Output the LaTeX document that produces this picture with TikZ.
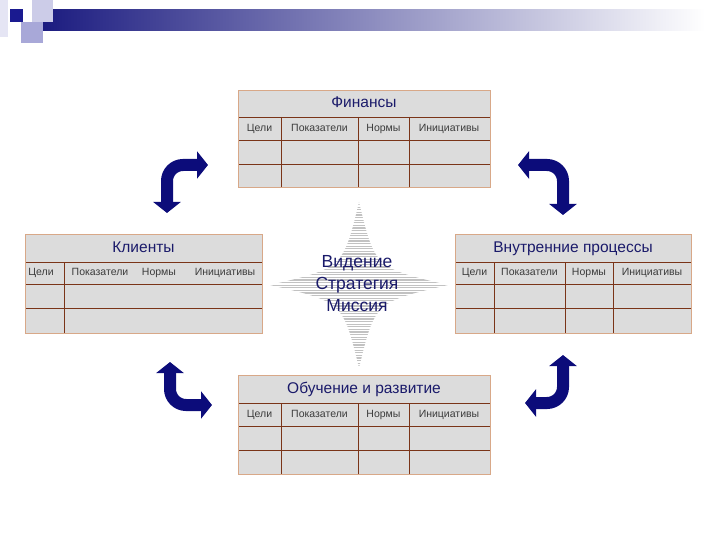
\documentclass[tikz,border=0pt]{standalone}
\usepackage{fontspec}
\setmainfont{Liberation Sans}
\usepackage{xcolor}
\usetikzlibrary{arrows.meta,positioning,calc}

\definecolor{barnavy}{HTML}{1C1C80}
\definecolor{darksq}{HTML}{1A1A90}
\definecolor{lightsq}{HTML}{CCCCE8}
\definecolor{midsq}{HTML}{A8A8D8}
\definecolor{tablegray}{HTML}{DCDCDC}
\definecolor{gridline}{HTML}{7A3418}
\definecolor{frameline}{HTML}{D8A888}
\definecolor{titleblue}{HTML}{1A1A6A}
\definecolor{headgray}{HTML}{3C3C3C}
\definecolor{arrowblue}{HTML}{0C0C7A}

\begin{document}
\begin{tikzpicture}[
    x=1pt, y=-1pt,
    grid/.style={draw=gridline, line width=0.8pt},
    frame/.style={draw=frameline, line width=0.7pt},
    title/.style={text=titleblue, font=\fontsize{15.5}{17}\selectfont, inner sep=0pt,
        text height=11pt, text depth=3pt},
    head/.style={text=headgray, font=\fontsize{10.5}{12}\selectfont, inner sep=0pt,
        text height=7.5pt, text depth=2pt},
    stripe/.style={draw=gray!48, line width=1.2pt},
    motto/.style={text=titleblue, font=\fontsize{17.5}{19}\selectfont, inner sep=0pt},
    bent/.style={
        draw=arrowblue,
        line width=12pt,
        rounded corners=16pt,
        {Triangle[width=27pt,length=11pt]}-{Triangle[width=27pt,length=11pt]}
    }
]
\useasboundingbox (0,0) rectangle (720,540);

% slide header
\shade[left color=barnavy, right color=white] (43,10) rectangle (705,31);
\fill[lightsq!50] (0,0) rectangle (8,37);
\fill[lightsq] (32,0) rectangle (53,22);
\fill[midsq] (21,22) rectangle (43,43);
\fill[darksq] (10,9) rectangle (23,22);

% Finance
\fill[tablegray] (238,90) rectangle (490,187);
\draw[grid] (238,117) -- (490,117) (238,140) -- (490,140) (238,164) -- (490,164);
\foreach \c in {281,358,409} \draw[grid] (\c,117) -- (\c,187);
\draw[frame] (238,90) rectangle (490,187);
\node[title] (finance) at (364,103.5) {Финансы};
\foreach \c/\t [count=\i] in {259.5/Цели,319.5/Показатели,383.5/Нормы,449/Инициативы}
    \node[head] (finance-h\i) at (\c,128.5) {\t};

% Clients
\fill[tablegray] (25,234) rectangle (262,333);
\draw[grid] (25,262) -- (262,262) (25,284) -- (262,284) (25,308) -- (262,308);
\draw[grid] (64,262) -- (64,333);
\draw[frame] (25,234) rectangle (262,333);
\node[title] (clients) at (143.5,248) {Клиенты};
\foreach \c/\t [count=\i] in {41/Цели,100/Показатели,159/Нормы,225/Инициативы}
    \node[head] (clients-h\i) at (\c,273) {\t};

% Internal processes
\fill[tablegray] (455,234) rectangle (691,333);
\draw[grid] (455,262) -- (691,262) (455,284) -- (691,284) (455,308) -- (691,308);
\foreach \c in {494,565,613} \draw[grid] (\c,262) -- (\c,333);
\draw[frame] (455,234) rectangle (691,333);
\node[title] (process) at (573,248) {Внутренние процессы};
\foreach \c/\t [count=\i] in {474.5/Цели,529.5/Показатели,589/Нормы,652/Инициативы}
    \node[head] (process-h\i) at (\c,273) {\t};

% Learning and growth
\fill[tablegray] (238,375) rectangle (490,474);
\draw[grid] (238,403) -- (490,403) (238,426) -- (490,426) (238,450) -- (490,450);
\foreach \c in {281,358,409} \draw[grid] (\c,403) -- (\c,474);
\draw[frame] (238,375) rectangle (490,474);
\node[title] (learning) at (364,389) {Обучение и развитие};
\foreach \c/\t [count=\i] in {259.5/Цели,319.5/Показатели,383.5/Нормы,449/Инициативы}
    \node[head] (learning-h\i) at (\c,414.5) {\t};

% star in the middle
\begin{scope}
\clip (359,202) .. controls (375,268) .. (448,285) .. controls (375,302) .. (359,368)
      .. controls (343,302) .. (270,285) .. controls (343,268) .. cycle;
\foreach \y in {202,204.6,...,368} \draw[stripe] (270,\y) -- (448,\y);
\end{scope}
\node[motto] (strategy) at (357,285) {Стратегия};
\node[motto, above=6pt of strategy] (vision) {Видение};
\node[motto, below=6pt of strategy] (mission) {Миссия};

% bent arrows
\coordinate (tl-a) at (167,213);
\coordinate (tl-b) at (208,165);
\coordinate (tr-a) at (518,165);
\coordinate (tr-b) at (563,215);
\coordinate (bl-a) at (170,362);
\coordinate (bl-b) at (212,405);
\coordinate (br-a) at (563,355);
\coordinate (br-b) at (525,403);

\draw[bent] (tl-a) |- (tl-b);
\draw[bent] (tr-a) -| (tr-b);
\draw[bent] (bl-a) |- (bl-b);
\draw[bent] (br-a) |- (br-b);
\end{tikzpicture}
\end{document}
